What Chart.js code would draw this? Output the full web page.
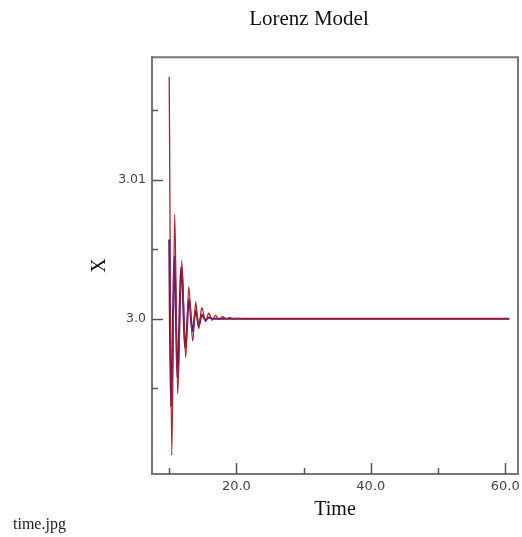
<!DOCTYPE html>
<html>
<head>
<meta charset="utf-8">
<script src="https://cdn.jsdelivr.net/npm/chart.js@4.4.0/dist/chart.umd.min.js"></script>
<style>
  html, body { margin: 0; padding: 0; background: #ffffff; }
  #wrap { position: relative; width: 522px; height: 537px; }
  #caption { position: absolute; left: 13px; top: 515px; font-family: "Liberation Serif", serif; font-size: 16px; color: #222; }
</style>
</head>
<body>
<div id="wrap">
  <canvas id="c" width="522" height="537"></canvas>
  <div id="caption">time.jpg</div>
</div>
<script>
// ---- data ----
const redTime = [10.0, 10.38, 10.82, 11.26, 11.86, 12.46, 12.9, 13.5, 13.94, 14.39, 14.84, 15.43, 15.88, 16.4, 16.9, 17.4, 17.95, 18.5, 19.0, 19.6, 20.2, 21.0, 60.6];
const redX    = [3.0174, 2.9902, 3.0075, 2.9946, 3.0042, 2.9972, 3.0023, 2.9984, 3.0012, 2.9993, 3.0008, 2.9998, 3.0004, 2.9999, 3.00025, 2.99995, 3.00015, 3.0, 3.00008, 3.0, 3.00003, 3.0, 3.0];
const blueTime = [10.0, 10.25, 10.8, 11.2, 11.8, 12.4, 12.95, 13.45, 13.95, 14.4, 14.85, 15.4, 15.9, 16.45, 17.0, 18.0, 60.6];
const blueX    = [3.0057, 2.9937, 3.0045, 2.9958, 3.0037, 2.9979, 3.0014, 2.9991, 3.0006, 2.9995, 3.0003, 2.9999, 3.0001, 3.0, 3.0, 3.0, 3.0];

const xMajorTicks = [20, 40, 60];
const xTickLabels = ['20.0', '40.0', '60.0'];
const xMinorTicks = [10, 30, 50];
const yMajorTicks = [3.0, 3.01];
const yTickLabels = ['3.0', '3.01'];
const yMinorTicks = [2.995, 3.005, 3.015];

const toPts = (xs, ys) => xs.map((x, i) => ({ x: x, y: ys[i] }));

const frameAndTicks = {
  id: 'frameAndTicks',
  afterDraw(chart) {
    const ctx = chart.ctx;
    const a = chart.chartArea;
    const xs = chart.scales.x, ys = chart.scales.y;
    ctx.save();
    ctx.strokeStyle = '#777777';
    ctx.lineWidth = 2;
    ctx.beginPath();
    ctx.moveTo(a.left, a.top); ctx.lineTo(a.right, a.top); ctx.lineTo(a.right, a.bottom);
    ctx.stroke();
    ctx.lineWidth = 1.5;
    ctx.strokeStyle = '#555555';
    const tick = (vals, len, isX) => {
      vals.forEach(v => {
        ctx.beginPath();
        if (isX) {
          const p = Math.round(xs.getPixelForValue(v)) + 0.5;
          ctx.moveTo(p, a.bottom); ctx.lineTo(p, a.bottom - len);
        } else {
          const p = Math.round(ys.getPixelForValue(v)) + 0.5;
          ctx.moveTo(a.left, p); ctx.lineTo(a.left + len, p);
        }
        ctx.stroke();
      });
    };
    tick(xMajorTicks, 11, true);
    tick(xMinorTicks, 6, true);
    tick(yMajorTicks, 11, false);
    tick(yMinorTicks, 6, false);
    ctx.restore();
  }
};

new Chart(document.getElementById('c'), {
  type: 'line',
  data: {
    datasets: [
      { label: 'X (red)', data: toPts(redTime, redX), borderColor: '#ac1f27', borderWidth: 1.3,
        pointRadius: 0, cubicInterpolationMode: 'monotone', order: 0 },
      { label: 'X (blue)', data: toPts(blueTime, blueX), borderColor: '#4a1c84', borderWidth: 2,
        pointRadius: 0, cubicInterpolationMode: 'monotone', order: 1 }
    ]
  },
  options: {
    responsive: false,
    animation: false,
    layout: { padding: { left: 100, right: 4, top: 0, bottom: 0 } },
    plugins: {
      legend: { display: false },
      tooltip: { enabled: false },
      title: {
        display: true, text: 'Lorenz Model', color: '#111111',
        font: { family: 'Liberation Serif', size: 21, weight: 'normal' },
        padding: { top: 7, bottom: 25 }
      }
    },
    scales: {
      x: {
        type: 'linear', min: 7.44, max: 61.9,
        afterBuildTicks: s => { s.ticks = xMajorTicks.map(v => ({ value: v })); },
        afterFit: s => { s.height = 63; s.paddingLeft = 0; s.paddingRight = 0; },
        ticks: { callback: (v, i) => xTickLabels[i], color: '#444444', padding: 5,
                 font: { family: 'DejaVu Sans', size: 13 }, maxRotation: 0, autoSkip: false },
        grid: { display: false, drawTicks: false },
        border: { display: true, color: '#777777', width: 2 },
        title: { display: true, text: 'Time', color: '#111111',
                 font: { family: 'Liberation Serif', size: 20, weight: 'normal' },
                 padding: { top: 0, bottom: 15 } }
      },
      y: {
        type: 'linear', min: 2.98885, max: 3.0188,
        afterBuildTicks: s => { s.ticks = yMajorTicks.map(v => ({ value: v })); },
        afterFit: s => { s.width = 52; s.paddingTop = 0; s.paddingBottom = 0; },
        ticks: { callback: (v, i) => yTickLabels[i], color: '#444444', padding: 6,
                 font: { family: 'DejaVu Sans', size: 12.5 }, autoSkip: false },
        grid: { display: false, drawTicks: false },
        border: { display: true, color: '#777777', width: 2 },
        title: { display: true, text: 'X', color: '#111111',
                 font: { family: 'Liberation Serif', size: 20, weight: 'normal' },
                 padding: { top: -12, bottom: 0 } }
      }
    }
  },
  plugins: [frameAndTicks]
});
</script>
</body>
</html>
